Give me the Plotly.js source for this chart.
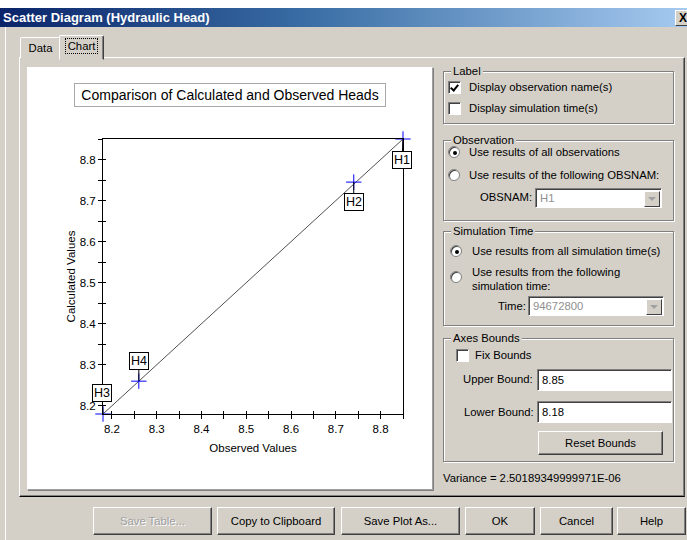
<!DOCTYPE html>
<html>
<head>
<meta charset="utf-8">
<script src="https://cdn.plot.ly/plotly-3.0.1.min.js"></script>
<style>
  html, body { margin:0; padding:0; }
  body { width:687px; height:540px; overflow:hidden; background:#d4d0c8; position:relative;
         font-family:"Liberation Sans", Arial, sans-serif; font-size:11.3px; color:#000; }
  .a { position:absolute; }
  .topstrip { left:0; top:0; width:687px; height:8px; background:#fff; }
  .titlebar { left:0; top:8px; width:687px; height:19px;
              background:linear-gradient(to right,#0a246a 0%,#3a6ea5 45%,#a6caf0 100%); }
  .titlebar span { position:absolute; left:3px; top:0; line-height:19px; color:#fff; font-weight:bold; font-size:13px; }
  .closebtn { left:675px; top:10px; width:16px; height:14px; background:#d4d0c8;
              border-top:1px solid #fff; border-left:1px solid #fff; border-bottom:1px solid #404040;
              font-weight:bold; font-size:12px; line-height:14px; text-indent:3px; }
  .winedge { left:5px; top:27px; width:1px; height:513px; background:#fff; }
  .panel { left:19px; top:57px; width:664px; height:438px; border-top:1px solid #fff; border-left:1px solid #fff;
           border-right:1px solid #404040; border-bottom:1px solid #000; box-shadow: inset -1px -1px 0 #808080; }
  .tab { background:#d4d0c8; border-top:1px solid #fff; border-left:1px solid #fff; border-right:1px solid #404040;
         box-shadow: inset -1px 0 0 #808080; border-radius:2px 2px 0 0; text-align:center; }
  .tabdata { left:20px; top:37px; width:39px; height:20px; line-height:20px; }
  .tabchart { left:59px; top:35px; width:43px; height:23px; line-height:21px; z-index:2; border-bottom:1px solid #d4d0c8; }
  .tabchart span { border:1px dotted #000; padding:1px 2px; }
  .chartbox { left:27px; top:67px; width:404px; height:421px; background:#fff;
              border-top:1px solid #fff; border-left:1px solid #fff; border-right:1px solid #a0a0a0; border-bottom:1px solid #a0a0a0;
              box-shadow: 1px 1px 0 #808080; }
  #plot { position:absolute; left:27px; top:67px; width:405px; height:422px; }
  .grp { border:1px solid #808080; box-shadow: inset 1px 1px 0 #fff, 1px 1px 0 #fff; }
  .grp .lg { position:absolute; left:7px; top:-8px; background:#d4d0c8; padding:0 2px; line-height:14px; }
  .lbl { line-height:14px; white-space:nowrap; }
  .chk { width:11px; height:11px; background:#fff; border-top:1px solid #808080; border-left:1px solid #808080;
         border-right:1px solid #fff; border-bottom:1px solid #fff; box-shadow: inset 1px 1px 0 #404040; }
  .chk.on::after { content:""; position:absolute; left:3px; top:1px; width:3px; height:6px;
                   border-right:2px solid #000; border-bottom:2px solid #000; transform:rotate(40deg); }
  .rad { width:12px; height:12px; border-radius:50%; background:#fff; border:1px solid #808080;
         box-shadow: inset 1px 1px 0 #404040; box-sizing:border-box; }
  .rad.on::after { content:""; position:absolute; left:3.5px; top:3.5px; width:4px; height:4px; border-radius:50%; background:#000; }
  .field { background:#fff; border-top:1px solid #808080; border-left:1px solid #808080; border-right:1px solid #fff;
           border-bottom:1px solid #fff; box-shadow: inset 1px 1px 0 #404040; line-height:18px; text-indent:4px; box-sizing:border-box; }
  .field.dis { color:#909090; }
  .drop { right:1px; top:2px; width:16px; height:16px; background:#d4d0c8; border-top:1px solid #fff; border-left:1px solid #fff;
          border-right:1px solid #404040; border-bottom:1px solid #404040; box-sizing:border-box; }
  .drop::after { content:""; position:absolute; left:3px; top:5px; border-left:4px solid transparent; border-right:4px solid transparent;
                 border-top:4px solid #a0a0a0; }
  .btn { background:#d4d0c8; border-top:1px solid #fff; border-left:1px solid #fff; border-right:1px solid #404040;
         border-bottom:1px solid #404040; box-shadow: inset -1px -1px 0 #808080; box-sizing:border-box; text-align:center; }
  .btn.dis { color:#a0a0a0; text-shadow:1px 1px 0 #fff; }
</style>
</head>
<body>
<div class="a topstrip"></div>
<div class="a titlebar"><span>Scatter Diagram (Hydraulic Head)</span></div>
<div class="a closebtn">X</div>
<div class="a winedge"></div>

<div class="a panel"></div>
<div class="a tab tabdata">Data</div>
<div class="a tab tabchart"><span>Chart</span></div>

<div class="a chartbox"></div>
<div id="plot"></div>

<!-- Label group -->
<div class="a grp" style="left:443px;top:71px;width:229px;height:51px;"><span class="lg">Label</span></div>
<div class="a chk on" style="left:448px;top:81px;"></div>
<div class="a lbl" style="left:469px;top:80px;">Display observation name(s)</div>
<div class="a chk" style="left:448px;top:102px;"></div>
<div class="a lbl" style="left:469px;top:101px;">Display simulation time(s)</div>

<!-- Observation group -->
<div class="a grp" style="left:443px;top:140px;width:229px;height:79px;"><span class="lg">Observation</span></div>
<div class="a rad on" style="left:448px;top:146px;"></div>
<div class="a lbl" style="left:469px;top:145px;">Use results of all observations</div>
<div class="a rad" style="left:448px;top:169px;"></div>
<div class="a lbl" style="left:469px;top:168px;">Use results of the following OBSNAM:</div>
<div class="a lbl" style="left:480px;top:190px;">OBSNAM:</div>
<div class="a field dis" style="left:535px;top:188px;width:127px;height:20px;">H1<div class="a drop"></div></div>

<!-- Simulation Time group -->
<div class="a grp" style="left:443px;top:231px;width:229px;height:93px;"><span class="lg">Simulation Time</span></div>
<div class="a rad on" style="left:450px;top:245px;"></div>
<div class="a lbl" style="left:472px;top:244px;">Use results from all simulation time(s)</div>
<div class="a rad" style="left:450px;top:271px;"></div>
<div class="a lbl" style="left:472px;top:265px;line-height:14px;">Use results from the following<br>simulation time:</div>
<div class="a lbl" style="left:498px;top:299px;">Time:</div>
<div class="a field dis" style="left:528px;top:296px;width:136px;height:20px;">94672800<div class="a drop"></div></div>

<!-- Axes Bounds group -->
<div class="a grp" style="left:443px;top:338px;width:229px;height:122px;"><span class="lg">Axes Bounds</span></div>
<div class="a chk" style="left:456px;top:349px;"></div>
<div class="a lbl" style="left:475px;top:348px;">Fix Bounds</div>
<div class="a lbl" style="left:463px;top:372px;">Upper Bound:</div>
<div class="a field" style="left:537px;top:369px;width:135px;height:22px;line-height:20px;">8.85</div>
<div class="a lbl" style="left:464px;top:405px;">Lower Bound:</div>
<div class="a field" style="left:537px;top:401px;width:135px;height:22px;line-height:20px;">8.18</div>
<div class="a btn" style="left:538px;top:431px;width:125px;height:24px;line-height:22px;">Reset Bounds</div>

<div class="a lbl" style="left:443px;top:471px;">Variance = 2.50189349999971E-06</div>

<!-- bottom buttons -->
<div class="a btn dis" style="left:93px;top:507px;width:119px;height:28px;line-height:26px;">Save Table...</div>
<div class="a btn" style="left:217px;top:507px;width:118px;height:28px;line-height:26px;">Copy to Clipboard</div>
<div class="a btn" style="left:341px;top:507px;width:119px;height:28px;line-height:26px;">Save Plot As...</div>
<div class="a btn" style="left:465px;top:507px;width:70px;height:28px;line-height:26px;">OK</div>
<div class="a btn" style="left:540px;top:507px;width:73px;height:28px;line-height:26px;">Cancel</div>
<div class="a btn" style="left:617px;top:507px;width:69px;height:28px;line-height:26px;">Help</div>

<script>
// ---- data ----
const obsNames = ['H1', 'H2', 'H3', 'H4'];
const observedValues = [8.85, 8.74, 8.18, 8.26];
const calculatedValues = [8.85, 8.745, 8.18, 8.26];
const axisBounds = [8.18, 8.85];          // lower, upper
const chartTitle = 'Comparison of Calculated and Observed Heads';
const xTitle = 'Observed Values';
const yTitle = 'Calculated Values';

const FONT = '"Liberation Sans", Arial, sans-serif';
const labelOffsets = [[-1, 21], [0, 20], [-1, -21], [0, -20]];

const traces = [
  { x: axisBounds, y: axisBounds, mode: 'lines', line: { color: '#505050', width: 1 },
    hoverinfo: 'skip', cliponaxis: false },
  { x: observedValues, y: calculatedValues, text: obsNames, mode: 'markers', cliponaxis: false,
    marker: { symbol: 'cross-thin-open', size: 11, color: '#0000ff', line: { color: '#0000ff', width: 1 } } },
  { x: [], y: [], xaxis: 'x2', yaxis: 'y', mode: 'markers', hoverinfo: 'skip' },
  { x: [], y: [], xaxis: 'x', yaxis: 'y2', mode: 'markers', hoverinfo: 'skip' }
];

const tickFont = { family: FONT, size: 11.5, color: '#000' };
const baseAxis = {
  range: axisBounds, tick0: 8.2, dtick: 0.1, tickformat: '.1f',
  showgrid: false, zeroline: false, fixedrange: true
};

const layout = {
  width: 405, height: 422,
  margin: { l: 76, r: 29, t: 72, b: 75, pad: 0 },
  paper_bgcolor: 'rgba(0,0,0,0)', plot_bgcolor: '#fff',
  showlegend: false,
  xaxis: Object.assign({}, baseAxis, {
    ticks: 'outside', ticklen: 4, tickcolor: '#000', tickwidth: 1,
    showline: true, mirror: true, linecolor: '#000', linewidth: 1,
    tickfont: tickFont,
    title: { text: xTitle, font: { family: FONT, size: 11.5, color: '#000' }, standoff: 10 },
    minor: { dtick: 0.05, tick0: 8.2, ticks: 'outside', ticklen: 4, tickcolor: '#000', showgrid: false }
  }),
  yaxis: Object.assign({}, baseAxis, {
    ticks: 'outside', ticklen: 4, tickcolor: '#000', tickwidth: 1,
    showline: true, mirror: true, linecolor: '#000', linewidth: 1,
    tickfont: tickFont,
    title: { text: yTitle, font: { family: FONT, size: 11.5, color: '#000' }, standoff: 1 },
    minor: { dtick: 0.05, tick0: 8.2, ticks: 'outside', ticklen: 4, tickcolor: '#000', showgrid: false }
  }),
  xaxis2: Object.assign({}, baseAxis, {
    overlaying: 'x', anchor: 'y', side: 'bottom', ticks: 'inside', ticklen: 3, tickcolor: '#000',
    showticklabels: false, showline: false,
    minor: { dtick: 0.05, tick0: 8.2, ticks: 'inside', ticklen: 3, tickcolor: '#000', showgrid: false }
  }),
  yaxis2: Object.assign({}, baseAxis, {
    overlaying: 'y', anchor: 'x', side: 'left', ticks: 'inside', ticklen: 3, tickcolor: '#000',
    showticklabels: false, showline: false,
    minor: { dtick: 0.05, tick0: 8.2, ticks: 'inside', ticklen: 3, tickcolor: '#000', showgrid: false }
  }),
  annotations: [
    { text: chartTitle, xref: 'paper', yref: 'paper', x: 0.423, y: 1.16, xanchor: 'center', yanchor: 'middle',
      showarrow: false, font: { family: FONT, size: 14, color: '#000' },
      bgcolor: '#fff', bordercolor: '#a8a8a8', borderwidth: 1, borderpad: 2, width: 306, height: 18 }
  ].concat(obsNames.map((name, i) => ({
    text: name, x: observedValues[i], y: calculatedValues[i], xref: 'x', yref: 'y',
    showarrow: true, arrowhead: 0, arrowwidth: 1, arrowcolor: '#000', standoff: 0,
    ax: labelOffsets[i][0], ay: labelOffsets[i][1],
    font: { family: FONT, size: 12.5, color: '#000' },
    bgcolor: '#fff', bordercolor: '#000', borderwidth: 1, borderpad: 1
  })))
};

Plotly.newPlot('plot', traces, layout, { displayModeBar: false, staticPlot: true });
</script>
</body>
</html>
